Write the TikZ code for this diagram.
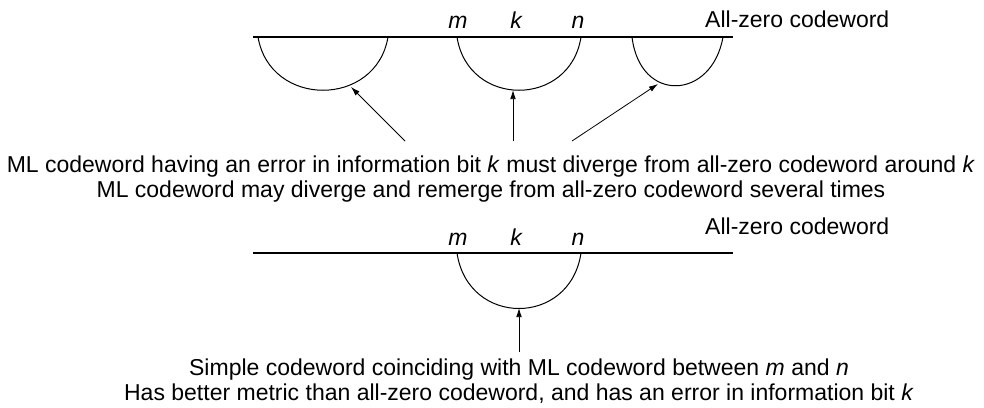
\documentclass[tikz,border=0pt]{standalone}
\usepackage{fontspec}
\setmainfont{Liberation Sans}
\usepackage{tikz}
\usetikzlibrary{
  arrows.meta,
  positioning,
}
\tikzset{
  trellisline/.style={
    line width=1.3pt, draw=black,
  },
  pathArc/.style={
    line width=1pt, draw=black,
  },
  arrowThin/.style={
    -{Latex[length=3.2mm,width=2mm]}, line width=0.8pt, draw=black,
  },
  caption/.style={
    inner sep=0pt, align=center, font=\fontsize{23}{24.5}\selectfont,
  },
  idxlabel/.style={
    inner sep=0pt, anchor=base, font=\fontsize{23}{24}\selectfont\itshape,
  },
  linelabel/.style={
    inner sep=0pt, anchor=base west, font=\fontsize{23}{24}\selectfont,
  },
}

\begin{document}
\begin{tikzpicture}[x=1pt,y=-1pt]
\useasboundingbox (0,0) rectangle (984,407);

% upper trellis: all-zero path and three diverging paths
\coordinate (topL) at (253,37);
\coordinate (topR) at (733,37);
\draw[trellisline] (topL) -- (topR);
\node[linelabel] (zeroTop) at (705,27) {All-zero codeword};
\node[idxlabel] (mTop) at (458,28) {m};
\node[idxlabel] (kTop) at (516,28) {k};
\node[idxlabel] (nTop) at (578,28) {n};

\draw[pathArc] (258,37) .. controls (270,108) and (376,108) .. (388,37);
\draw[pathArc] (457,37) .. controls (468,108) and (570,108) .. (581,37);
\draw[pathArc] (632,37) .. controls (640,104) and (712,100) .. (723,37);

\coordinate (hitA) at (351,87);
\coordinate (hitB) at (513,90);
\coordinate (hitC) at (658,84);
\coordinate (tailA) at (405,141);
\coordinate (tailB) at (513,141);
\coordinate (tailC) at (572,141);
\draw[arrowThin] (tailA) -- (hitA);
\draw[arrowThin] (tailB) -- (hitB);
\draw[arrowThin] (tailC) -- (hitC);

\node[caption, anchor=north] (mlText) at (491,156) {%
  ML codeword having an error in information bit \textit{k} must diverge from all-zero codeword around \textit{k}\\
  ML codeword may diverge and remerge from all-zero codeword several times};

% lower trellis: one simple path
\coordinate (botL) at (253,253);
\coordinate (botR) at (733,253);
\draw[trellisline] (botL) -- (botR);
\node[linelabel] (zeroBot) at (705,234) {All-zero codeword};
\node[idxlabel] (mBot) at (458,245) {m};
\node[idxlabel] (kBot) at (516,245) {k};
\node[idxlabel] (nBot) at (578,245) {n};

\draw[pathArc] (457,253) .. controls (468,327) and (570,327) .. (581,253);

\coordinate (hitD) at (519,308);
\coordinate (tailD) at (519,352);
\draw[arrowThin] (tailD) -- (hitD);

\node[caption, anchor=north] (simpleText) at (519,359) {%
  Simple codeword coinciding with ML codeword between \textit{m} and \textit{n}\\
  Has better metric than all-zero codeword, and has an error in information bit \textit{k}};
\end{tikzpicture}
\end{document}
